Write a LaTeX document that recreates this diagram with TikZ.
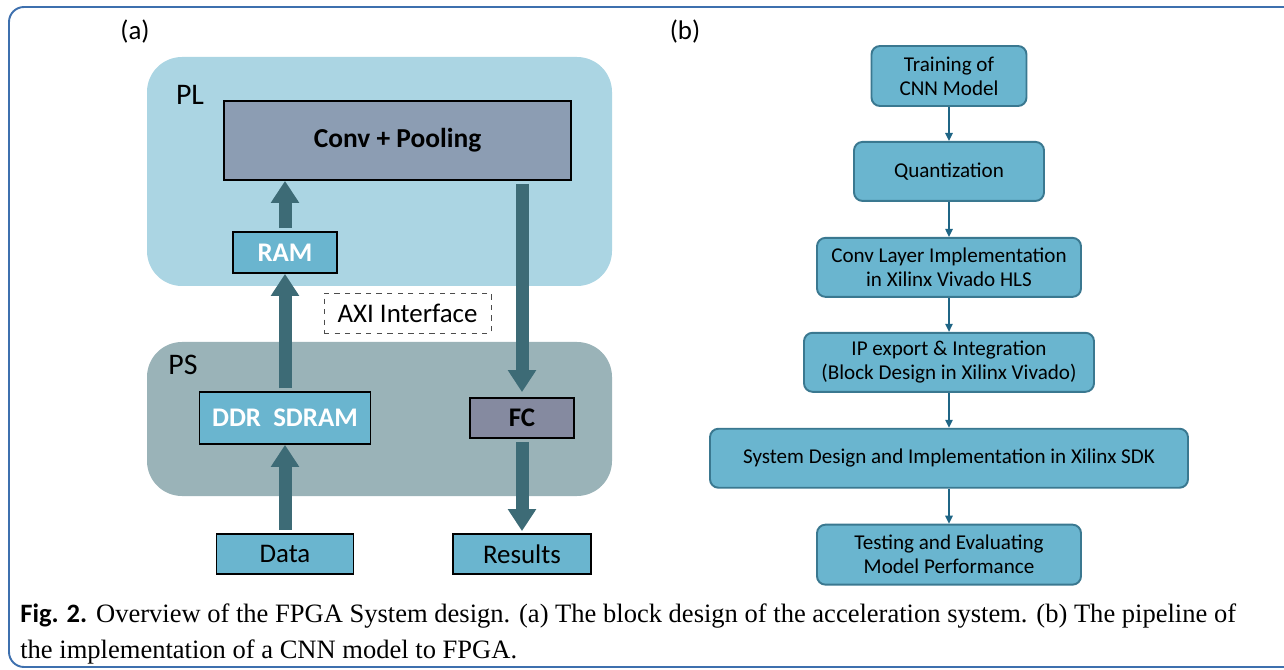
\documentclass[tikz,border=0pt]{standalone}
\usepackage{fontspec}
\setmainfont{Liberation Serif}
\setsansfont{Carlito}
\usetikzlibrary{positioning,arrows.meta}
\definecolor{frameblue}{HTML}{3E70AE}
\definecolor{plfill}{HTML}{ABD5E3}
\definecolor{psfill}{HTML}{9AB3B8}
\definecolor{convfill}{HTML}{8C9DB3}
\definecolor{fcfill}{HTML}{858AA0}
\definecolor{boxfill}{HTML}{6AB5CF}
\definecolor{busteal}{HTML}{3D6B76}
\definecolor{stageedge}{HTML}{3A7890}
\definecolor{flowline}{HTML}{1F6585}
\tikzset{
  region/.style={fill=#1,rounded corners=0.7cm},
  label text/.style={font=\sffamily\fontsize{15.3}{18}\selectfont,inner sep=0pt},
  block/.style={draw=black,line width=1pt,inner sep=0pt,font=\sffamily\fontsize{15.3}{18}\selectfont},
  stage/.style={draw=stageedge,line width=1.1pt,fill=boxfill,rounded corners=0.17cm,inner sep=0pt,
    minimum height=1.18cm,align=center,font=\sffamily\fontsize{12}{13.6}\selectfont},
  bus/.style={busteal,line width=0.26cm,-{Triangle[width=0.54cm,length=0.44cm]},shorten <=0.06cm},
  flow/.style={flowline,line width=0.7pt,-{Triangle[width=0.15cm,length=0.16cm]}}
}

\begin{document}
\begin{tikzpicture}
  \useasboundingbox (0,0) rectangle (25.68,-13.4);
  \clip (0,0) rectangle (25.68,-13.4);
  \draw[frameblue,line width=1.1pt,rounded corners=0.3cm] (0.18,-0.14) rectangle (26.4,-13.34);

  % (a) block design
  \node[label text] (lbla) at (2.70,-0.64) {(a)};
  \fill[region=plfill] (2.94,-1.14) rectangle (12.24,-5.72);
  \fill[region=psfill] (2.94,-6.84) rectangle (12.24,-9.92);
  \node[label text,font=\sffamily\fontsize{17}{18}\selectfont] (pl) at (3.80,-1.90) {PL};
  \node[label text,font=\sffamily\fontsize{17}{18}\selectfont] (ps) at (3.66,-7.30) {PS};

  \node[block,fill=convfill,minimum width=6.94cm,minimum height=1.58cm,font=\sffamily\bfseries\fontsize{15.6}{18}\selectfont] (conv) at (7.95,-2.81) {Conv + Pooling};
  \node[block,fill=boxfill,text=white,minimum width=2.08cm,minimum height=0.82cm,font=\sffamily\bfseries\fontsize{15.3}{18}\selectfont] (ram) at (5.70,-5.05) {RAM};
  \node[draw=black!70,dashed,line width=0.5pt,minimum width=3.34cm,minimum height=0.80cm,label text] (axi) at (8.15,-6.26) {AXI Interface};
  \node[block,fill=boxfill,text=white,minimum width=3.42cm,minimum height=1.04cm,font=\sffamily\bfseries\fontsize{15.3}{18}\selectfont] (ddr) at (5.70,-8.36) {DDR\ \ SDRAM};
  \node[block,fill=fcfill,minimum width=2.08cm,minimum height=0.80cm,font=\sffamily\bfseries\fontsize{15.3}{18}\selectfont] (fc) at (10.44,-8.36) {FC};
  \node[block,fill=boxfill,minimum width=2.74cm,minimum height=0.80cm] (data) at (5.70,-11.08) {Data};
  \node[block,fill=boxfill,minimum width=2.76cm,minimum height=0.80cm] (results) at (10.44,-11.08) {Results};

  \draw[bus] (data) -- (ddr);
  \draw[bus] (ddr) -- (ram);
  \draw[bus] (ram) -- (ram |- conv.south);
  \draw[bus,shorten >=0.1cm] (conv.south -| fc) -- (fc);
  \draw[bus,shorten >=0.04cm] (fc) -- (results);

  % (b) implementation pipeline
  \node[label text] (lblb) at (13.70,-0.64) {(b)};
  \node[stage,minimum width=3.10cm,minimum height=1.20cm] (train) at (18.98,-1.52) {Training of\\CNN Model};
  \node[stage,minimum width=3.80cm,below=0.68cm of train] (quant) {Quantization};
  \node[stage,minimum width=5.28cm,below=0.70cm of quant] (hls) {Conv Layer Implementation\\in Xilinx Vivado HLS};
  \node[stage,minimum width=5.80cm,below=0.68cm of hls] (ipexp) {IP export \& Integration\\(Block Design in Xilinx Vivado)};
  \node[stage,minimum width=9.56cm,below=0.70cm of ipexp] (sdk) {System Design and Implementation in Xilinx SDK};
  \node[stage,minimum width=5.28cm,minimum height=1.20cm,below=0.70cm of sdk] (test) {Testing and Evaluating\\Model Performance};

  \foreach \a/\b in {train/quant,quant/hls,hls/ipexp,ipexp/sdk,sdk/test}
    \draw[flow] (\a) -- (\b);

  % caption
  \node[anchor=base west,inner sep=0pt,font=\fontsize{15.1}{18}\selectfont] (cap1) at (0.40,-12.44)
    {{\sffamily\bfseries Fig. 2.} Overview of the FPGA System design. (a) The block design of the acceleration system. (b) The pipeline of};
  \node[anchor=base west,inner sep=0pt,font=\fontsize{15.1}{18}\selectfont] (cap2) at (0.40,-13.16)
    {the implementation of a CNN model to FPGA.};
\end{tikzpicture}
\end{document}
